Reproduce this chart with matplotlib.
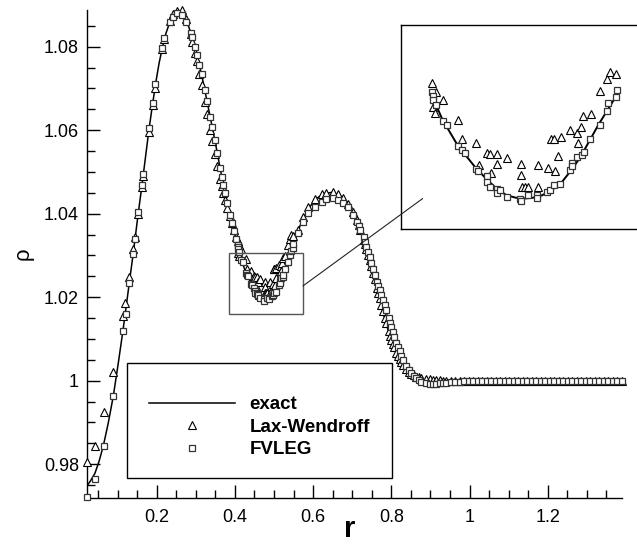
import numpy as np
import matplotlib
matplotlib.use("Agg")
import matplotlib.pyplot as plt
from matplotlib.ticker import MultipleLocator, FuncFormatter
from matplotlib.patches import Rectangle, ConnectionPatch

plt.rcParams['font.family'] = ['Liberation Sans', 'DejaVu Sans']

# exact solution
r_exact = [0.021, 0.030, 0.042, 0.053, 0.064, 0.076, 0.089, 0.101, 0.114, 0.122,
           0.130, 0.140, 0.152, 0.162, 0.171, 0.180, 0.190, 0.198, 0.206, 0.215,
           0.224, 0.234, 0.243, 0.252, 0.262, 0.270, 0.278, 0.287, 0.298, 0.309,
           0.320, 0.332, 0.344, 0.355, 0.366, 0.377, 0.387, 0.397,
           0.408, 0.416, 0.426, 0.433, 0.441, 0.450, 0.458, 0.465, 0.472, 0.478,
           0.485, 0.492, 0.500, 0.507, 0.514, 0.521, 0.528, 0.535, 0.542, 0.549,
           0.561, 0.574, 0.590, 0.609, 0.628, 0.647, 0.662, 0.677, 0.692, 0.707,
           0.718, 0.728, 0.739, 0.749, 0.760, 0.770, 0.783, 0.796, 0.808, 0.821,
           0.838, 0.855, 0.872, 0.890, 0.910, 0.932, 0.960, 1.000, 1.100, 1.200,
           1.300, 1.389]
rho_exact = [0.9747, 0.9759, 0.9778, 0.9808, 0.9846, 0.9898, 0.9963, 1.0037, 1.0122, 1.0178,
             1.0235, 1.0305, 1.0395, 1.0466, 1.0533, 1.0600, 1.0666, 1.0716, 1.0760, 1.0800,
             1.0833, 1.0860, 1.0876, 1.0883, 1.0883, 1.0874, 1.0858, 1.0834, 1.0800, 1.0758,
             1.0710, 1.0654, 1.0598, 1.0545, 1.0490, 1.0440, 1.0398, 1.0360,
             1.0320, 1.0291, 1.0264, 1.0249, 1.0233, 1.0218, 1.0206, 1.0199, 1.0196, 1.0195,
             1.0196, 1.0199, 1.0206, 1.0215, 1.0229, 1.0245, 1.0265, 1.0285, 1.0303, 1.0321,
             1.0358, 1.0388, 1.0415, 1.0437, 1.0448, 1.0451, 1.0447, 1.0438, 1.0420, 1.0394,
             1.0369, 1.0341, 1.0307, 1.0272, 1.0232, 1.0195, 1.0148, 1.0108, 1.0077, 1.0051,
             1.0027, 1.0012, 1.0004, 1.0000, 0.9999, 0.9999, 1.0000, 1.0000, 1.0000, 1.0000,
             1.0000, 1.0000]

# FVLEG (squares)
r_fvleg = [0.021, 0.042, 0.064, 0.089, 0.114, 0.121, 0.130, 0.140, 0.145, 0.152,
           0.162, 0.165, 0.180, 0.190, 0.196, 0.214, 0.219, 0.234, 0.241, 0.251,
           0.264, 0.274, 0.287, 0.291, 0.298, 0.302, 0.309, 0.315, 0.323, 0.328,
           0.336, 0.342, 0.349, 0.355, 0.362, 0.366, 0.370, 0.374, 0.380, 0.387,
           0.392, 0.397, 0.403,
           0.4078, 0.4086, 0.4090, 0.4111, 0.4166, 0.4197, 0.4281, 0.4307, 0.4332, 0.4416,
           0.4433, 0.4497, 0.4502, 0.4522, 0.4573, 0.4578, 0.4599, 0.4650, 0.4751, 0.4756,
           0.4814, 0.4878, 0.4883, 0.4954, 0.4980, 0.5010, 0.5056, 0.5132, 0.5145, 0.5150,
           0.5183, 0.5221, 0.5239, 0.5285, 0.5361, 0.5412, 0.5424, 0.5483, 0.5488,
           0.5617, 0.5744, 0.5870, 0.6040, 0.6214, 0.6340, 0.6510, 0.6640, 0.6766, 0.6890,
           0.7020, 0.7110, 0.7160, 0.7210, 0.7295, 0.7330, 0.7360, 0.7410, 0.7450, 0.7490,
           0.7535, 0.7575, 0.7634, 0.7670, 0.7700, 0.7745, 0.7787, 0.7830, 0.7870, 0.7930,
           0.7965, 0.8000, 0.8035, 0.8070, 0.8130, 0.8170, 0.8210, 0.8255, 0.8300, 0.8385,
           0.8445, 0.8510, 0.8575, 0.8640, 0.8705, 0.8770, 0.8895, 0.8980, 0.9060, 0.9150,
           0.9235, 0.9320, 0.9406,
           0.952, 0.9635, 0.975, 0.9865, 0.998, 1.0095, 1.021, 1.0325, 1.044, 1.0555,
           1.067, 1.0785, 1.090, 1.1015, 1.113, 1.1245, 1.136, 1.1475, 1.159, 1.1705,
           1.182, 1.1935, 1.205, 1.2165, 1.228, 1.2395, 1.251, 1.2625, 1.274, 1.2855,
           1.297, 1.3085, 1.320, 1.3315, 1.343, 1.3545, 1.366, 1.3775, 1.389]
rho_fvleg = [0.9721, 0.9764, 0.9844, 0.9964, 1.0120, 1.0159, 1.0235, 1.0303, 1.0339, 1.0405,
             1.0469, 1.0495, 1.0605, 1.0666, 1.0710, 1.0798, 1.0820, 1.0860, 1.0872, 1.0880,
             1.0876, 1.0860, 1.0832, 1.0823, 1.0800, 1.0780, 1.0756, 1.0735, 1.0696, 1.0670,
             1.0632, 1.0608, 1.0577, 1.0545, 1.0509, 1.0489, 1.0469, 1.0449, 1.0425, 1.0397,
             1.0377, 1.0359, 1.0339,
             1.0325, 1.0320, 1.0315, 1.0309, 1.0289, 1.0284, 1.0259, 1.0254, 1.0250, 1.0231,
             1.0229, 1.0222, 1.0215, 1.0209, 1.0207, 1.0202, 1.0205, 1.0197, 1.0195, 1.0192,
             1.0199, 1.0199, 1.0196, 1.0203, 1.0205, 1.0211, 1.0213, 1.0230, 1.0238, 1.0234,
             1.0246, 1.0248, 1.0252, 1.0268, 1.0284, 1.0301, 1.0311, 1.0319, 1.0327,
             1.0353, 1.0381, 1.0401, 1.0417, 1.0429, 1.0435, 1.0437, 1.0433, 1.0426, 1.0417,
             1.0397, 1.0381, 1.0371, 1.0361, 1.0343, 1.0333, 1.0321, 1.0309, 1.0297, 1.0281,
             1.0267, 1.0253, 1.0237, 1.0227, 1.0217, 1.0205, 1.0193, 1.0181, 1.0169, 1.0149,
             1.0139, 1.0129, 1.0117, 1.0105, 1.0090, 1.0080, 1.0070, 1.0060, 1.0050, 1.0034,
             1.0026, 1.0018, 1.0012, 1.0006, 1.0002, 0.9998, 0.9994, 0.9993, 0.9992, 0.9993,
             0.9994, 0.9994, 0.9995,
             0.9996, 0.9997, 0.9998, 0.9999, 1.0000, 1.0000, 1.0000, 1.0000, 1.0000, 1.0000,
             1.0000, 1.0000, 1.0000, 1.0000, 1.0000, 1.0000, 1.0000, 1.0000, 1.0000, 1.0000,
             1.0000, 1.0000, 1.0000, 1.0000, 1.0000, 1.0000, 1.0000, 1.0000, 1.0000, 1.0000,
             1.0000, 1.0000, 1.0000, 1.0000, 1.0000, 1.0000, 1.0000, 1.0000, 1.0000]

# Lax-Wendroff (triangles)
r_lw = [0.021, 0.042, 0.065, 0.089, 0.113, 0.120, 0.130, 0.140, 0.145, 0.152,
        0.162, 0.165, 0.180, 0.190, 0.196, 0.214, 0.219, 0.234, 0.241, 0.251,
        0.264, 0.274, 0.287, 0.291, 0.298, 0.302, 0.309, 0.315, 0.323, 0.328,
        0.336, 0.342, 0.349, 0.355, 0.362, 0.366, 0.370, 0.374, 0.380, 0.387,
        0.392, 0.397, 0.403,
        0.4078, 0.4086, 0.4103, 0.4108, 0.4166, 0.4281, 0.4307, 0.4416, 0.4441, 0.4497,
        0.4522, 0.4527, 0.4573, 0.4578, 0.4650, 0.4759, 0.4762, 0.4765, 0.4789, 0.4814,
        0.4886, 0.4890, 0.4962, 0.4987, 0.5012, 0.5016, 0.5038, 0.5063, 0.5132, 0.5183,
        0.5191, 0.5214, 0.5234, 0.5290, 0.5361, 0.5412, 0.5437, 0.5483,
        0.5617, 0.5744, 0.5870, 0.6040, 0.6214, 0.6340, 0.6510, 0.6640, 0.6766, 0.6890,
        0.7020, 0.7110, 0.7160, 0.7210, 0.7295, 0.7330, 0.7360, 0.7410, 0.7450, 0.7490,
        0.7535, 0.7575, 0.7634, 0.7670, 0.7700, 0.7745, 0.7787, 0.7830, 0.7870, 0.7930,
        0.7965, 0.8000, 0.8035, 0.8070, 0.8130, 0.8170, 0.8210, 0.8255, 0.8300, 0.8385,
        0.8445, 0.8510, 0.8575, 0.8640, 0.8705, 0.8770, 0.8895, 0.8980, 0.9060, 0.9150,
        0.9235, 0.9320, 0.9406,
        0.952, 0.9635, 0.975, 0.9865, 0.998, 1.0095, 1.021, 1.0325, 1.044, 1.0555,
        1.067, 1.0785, 1.090, 1.1015, 1.113, 1.1245, 1.136, 1.1475, 1.159, 1.1705,
        1.182, 1.1935, 1.205, 1.2165, 1.228, 1.2395, 1.251, 1.2625, 1.274, 1.2855,
        1.297, 1.3085, 1.320, 1.3315, 1.343, 1.3545, 1.366, 1.3775, 1.389]
rho_lw = [0.9806, 0.9844, 0.9926, 1.0021, 1.0154, 1.0187, 1.0249, 1.0315, 1.0345, 1.0400,
          1.0463, 1.0490, 1.0596, 1.0660, 1.0700, 1.0795, 1.0818, 1.0862, 1.0878, 1.0886,
          1.0887, 1.0866, 1.0830, 1.0812, 1.0784, 1.0765, 1.0735, 1.0708, 1.0668, 1.0640,
          1.0600, 1.0575, 1.0543, 1.0515, 1.0483, 1.0466, 1.0450, 1.0434, 1.0413, 1.0394,
          1.0378, 1.0362, 1.0345,
          1.0335, 1.0306, 1.0299, 1.0324, 1.0315, 1.0291, 1.0268, 1.0262, 1.0236, 1.0251,
          1.0249, 1.0226, 1.0249, 1.0237, 1.0244, 1.0237, 1.0224, 1.0209, 1.0209, 1.0209,
          1.0236, 1.0209, 1.0232, 1.0268, 1.0268, 1.0229, 1.0247, 1.0270, 1.0278, 1.0275,
          1.0263, 1.0282, 1.0295, 1.0298, 1.0326, 1.0340, 1.0349, 1.0347,
          1.0360, 1.0392, 1.0415, 1.0435, 1.0446, 1.0450, 1.0451, 1.0447, 1.0438, 1.0424,
          1.0404, 1.0385, 1.0374, 1.0362, 1.0338, 1.0328, 1.0316, 1.0301, 1.0288, 1.0274,
          1.0259, 1.0243, 1.0221, 1.0209, 1.0197, 1.0182, 1.0166, 1.0151, 1.0137, 1.0118,
          1.0108, 1.0098, 1.0089, 1.0080, 1.0067, 1.0059, 1.0052, 1.0045, 1.0038, 1.0028,
          1.0022, 1.0017, 1.0013, 1.0010, 1.0008, 1.0006, 1.0004, 1.0003, 1.0002, 1.0001,
          1.0001, 1.0000, 1.0000,
          1.0000, 1.0000, 1.0000, 1.0000, 1.0000, 1.0000, 1.0000, 1.0000, 1.0000, 1.0000,
          1.0000, 1.0000, 1.0000, 1.0000, 1.0000, 1.0000, 1.0000, 1.0000, 1.0000, 1.0000,
          1.0000, 1.0000, 1.0000, 1.0000, 1.0000, 1.0000, 1.0000, 1.0000, 1.0000, 1.0000,
          1.0000, 1.0000, 1.0000, 1.0000, 1.0000, 1.0000, 1.0000, 1.0000, 1.0000]

zoom_box = (0.385, 1.016, 0.574, 1.0306)   # r0, rho0, r1, rho1 of the small frame
inset_range = (0.405, 0.552)               # part of the data shown in the inset

r_exact, rho_exact = np.array(r_exact), np.array(rho_exact)
r_fvleg, rho_fvleg = np.array(r_fvleg), np.array(rho_fvleg)
r_lw, rho_lw = np.array(r_lw), np.array(rho_lw)

sq_style = dict(ls='none', marker='s', ms=4.8, mfc='white', mec='#333333', mew=0.9)
tri_style = dict(ls='none', marker='^', ms=5.3, mfc='white', mec='black', mew=0.8)

fig = plt.figure(figsize=(6.37, 5.51), dpi=100)
ax = fig.add_axes([0.1361, 0.0962, 0.8399, 0.8857])

ax.plot(r_exact, rho_exact, color='black', lw=1.1, label='exact', zorder=2)
ax.plot(r_lw, rho_lw, label='Lax-Wendroff', zorder=3, clip_on=False, **tri_style)
ax.plot(r_fvleg, rho_fvleg, label='FVLEG', zorder=4, clip_on=False, **sq_style)

ax.set_xlim(0.021, 1.389)
ax.set_ylim(0.9719, 1.0888)

for s in ['top', 'right']:
    ax.spines[s].set_visible(False)
for s in ['left', 'bottom']:
    ax.spines[s].set_linewidth(1.0)

ax.xaxis.set_major_locator(MultipleLocator(0.2))
ax.xaxis.set_minor_locator(MultipleLocator(0.05))
ax.yaxis.set_major_locator(MultipleLocator(0.02))
ax.yaxis.set_minor_locator(MultipleLocator(0.005))
fmt = FuncFormatter(lambda v, _: f"{round(v, 4):g}")
ax.xaxis.set_major_formatter(fmt)
ax.yaxis.set_major_formatter(fmt)
ax.tick_params(which='both', direction='in', width=1.0, labelsize=13, top=False, right=False)
ax.tick_params(which='major', length=9.5)
ax.tick_params(which='minor', length=5.5)
ax.tick_params(axis='x', pad=8)
ax.tick_params(axis='y', pad=5.5)

ax.set_ylabel('ρ', fontsize=16, va='center')
ax.yaxis.set_label_coords(-0.119, 0.5)
ax.set_xlabel('r', fontsize=21, fontweight='bold', va='center')
ax.xaxis.set_label_coords(0.492, -0.0635)

# legend box
ax.add_patch(Rectangle((0.0753, 0.041), 0.4947, 0.2356, transform=ax.transAxes,
                       facecolor='white', edgecolor='black', lw=1.0, zorder=5))
leg = ax.legend(loc='upper left', bbox_to_anchor=(0.1164, 0.209), frameon=False,
                borderpad=0, borderaxespad=0, handlelength=4.6, handletextpad=0.75,
                labelspacing=0.29, numpoints=1, prop={'weight': 'bold', 'size': 13.5})
leg.set_zorder(6)

# small frame around the minimum
ax.add_patch(Rectangle((zoom_box[0], zoom_box[1]), zoom_box[2] - zoom_box[0],
                       zoom_box[3] - zoom_box[1], fill=False, edgecolor='#555555',
                       lw=1.0, zorder=5))

# inset
axin = fig.add_axes([401 / 637, (551 - 229) / 551, 247 / 637, 204 / 551])
axin.set_xlim(0.3844, 0.5727)
axin.set_ylim(1.0158, 1.0406)
axin.set_xticks([])
axin.set_yticks([])
for s in axin.spines.values():
    s.set_linewidth(1.0)

m = (r_exact >= inset_range[0]) & (r_exact <= inset_range[1])
axin.plot(r_exact[m], rho_exact[m], color='black', lw=1.4, zorder=2)
m = (r_lw >= inset_range[0]) & (r_lw <= inset_range[1])
axin.plot(r_lw[m], rho_lw[m], zorder=3, **tri_style)
m = (r_fvleg >= inset_range[0]) & (r_fvleg <= inset_range[1])
axin.plot(r_fvleg[m], rho_fvleg[m], zorder=4, **sq_style)

con = ConnectionPatch(xyA=(zoom_box[2], 1.0227), coordsA=ax.transData,
                      xyB=(0.4009, 1.0195), coordsB=axin.transData,
                      color='#222222', lw=0.8, zorder=10)
fig.add_artist(con)

fig.savefig('out.png', dpi=100)
